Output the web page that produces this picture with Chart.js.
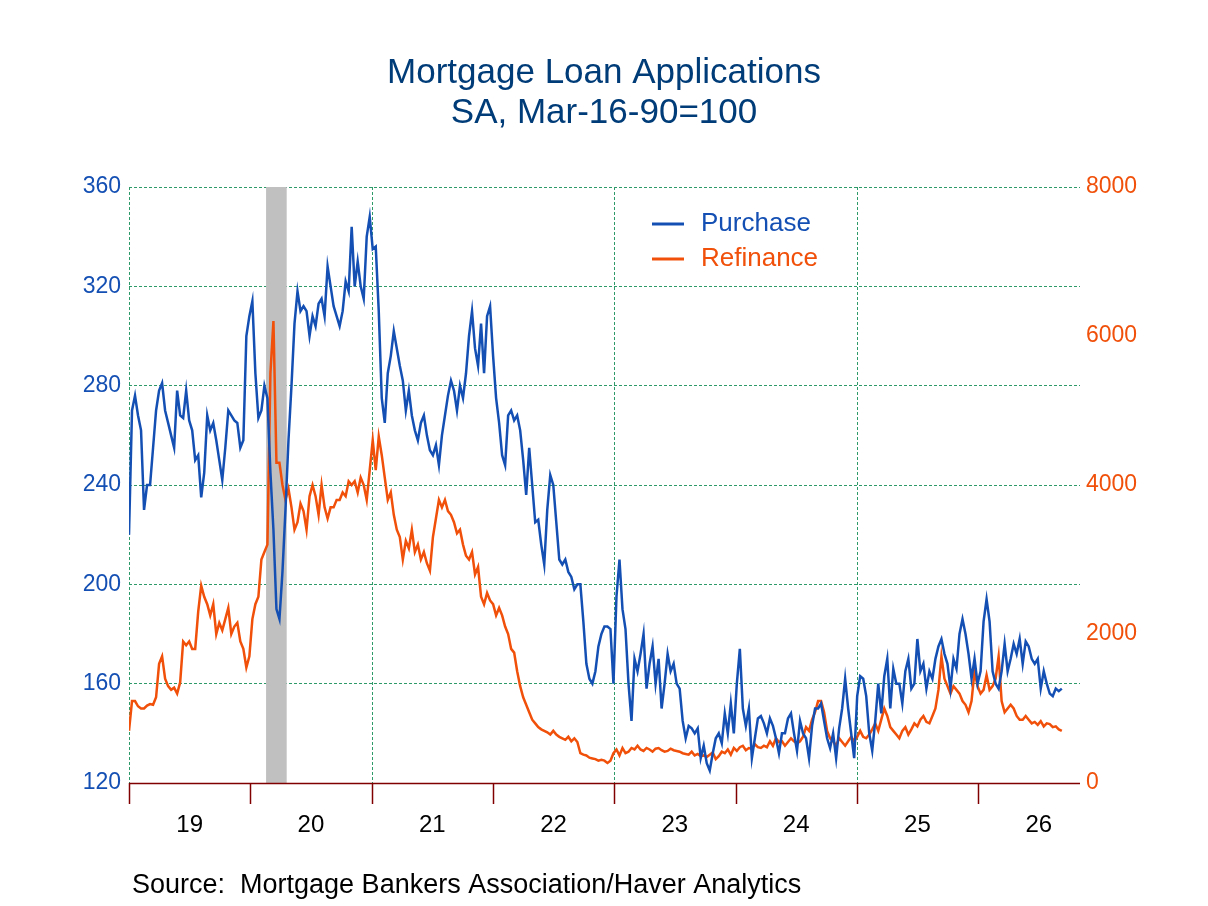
<!DOCTYPE html>
<html><head><meta charset="utf-8">
<script src="https://cdn.jsdelivr.net/npm/chart.js@4"></script>
<style>html,body{margin:0;padding:0;background:#fff}#w{width:1208px;height:906px}</style>
</head><body><div id="w"><canvas id="c" width="1208" height="906"></canvas></div>
<script>
const startYear = 2019.0, endYear = 2026.69;
const yearLabels = ["19","20","21","22","23","24","25","26"];
const leftTicks = [120,160,200,240,280,320,360];
const rightTicks = [0,2000,4000,6000,8000];
const recession = [2020.13, 2020.30];
const purchase = [220,270,276,268,262,230,240,240,255,270,278,281,270,265,260,255,
278,268,267,278,266,262,250,252,235,245,268,262,265,258,250,242,255,270,268,266,265,255,
258,300,308,314,285,267,270,280,275,245,222,190,186,205,230,258,280,305,318,310,312,310,
300,308,304,313,315,308,328,320,312,308,304,310,322,318,344,320,330,320,315,340,348,335,336,310,275,265,285,292,302,295,288,282,270,278,268,262,258,265,268,260,254,252,256,248,260,268,276,282,278,270,280,275,285,300,310,295,288,305,285,308,312,292,275,265,252,248,268,270,266,268,262,250,236,255,240,225,226,216,208,230,244,240,225,210,208,210,205,203,198,200,200,185,168,162,160,165,175,180,183,183,182,160,
195,210,190,182,160,145,170,165,172,180,158,168,175,160,170,150,160,172,165,168,160,158,145,138,143,142,140,142,130,135,128,125,132,138,140,136,148,140,152,140,160,174,150,143,150,130,138,146,147,144,140,146,143,138,132,140,140,146,148,140,133,145,140,138,130,143,150,150,152,145,138,134,140,130,142,150,162,150,140,130,155,163,162,155,140,133,145,160,148,163,170,150,166,160,160,152,165,170,158,160,178,165,168,158,165,162,170,175,178,172,168,158,170,166,180,186,180,172,162,170,160,165,185,194,185,165,160,158,165,176,165,170,176,172,178,168,177,175,170,168,170,158,165,160,156,155,158,157,158];
const refinance = [700,1100,1100,1030,1000,1000,1040,1060,1050,1150,1600,1700,1400,1300,1250,1280,
1200,1350,1900,1850,1900,1800,1800,2300,2650,2500,2400,2250,2400,2000,2150,2050,2200,2350,2000,2100,2150,1900,1800,1550,1700,2200,2400,2500,
3000,3100,3200,5500,6200,4300,4300,4000,3800,3950,
3700,3400,3500,3750,3650,3400,3850,4000,3850,3600,4000,3700,3550,3700,3700,3800,3800,3900,3850,4050,4000,4050,3900,4100,4000,3800,4200,4600,4200,4650,4400,4100,3800,3900,3600,3400,3300,3000,3250,3150,3400,3100,3200,3000,3100,2950,2850,3300,3550,3800,3700,3800,3650,3600,3500,3350,3400,3200,3050,3000,3100,2800,2900,2500,2400,2550,2450,2400,2250,2350,2250,2100,2000,1800,1750,1500,1300,1150,1050,950,850,800,750,720,700,680,650,700,650,620,600,580,620,560,600,550,400,380,370,340,330,320,300,310,300,270,300,400,450,370,470,400,420,470,450,500,450,430,470,450,420,460,470,440,420,430,460,440,430,420,400,390,380,420,370,390,360,370,350,380,410,320,360,420,400,450,380,470,430,480,500,440,470,460,520,480,470,500,480,560,500,600,550,560,500,550,600,560,530,560,620,750,700,850,950,1100,1100,950,700,600,560,500,600,550,500,560,620,560,620,700,620,600,650,720,800,700,850,1000,900,750,700,650,600,700,750,650,720,800,760,850,900,820,800,900,1000,1250,1700,1400,1300,1200,1300,1250,1200,1100,1050,950,1100,1500,1300,1200,1250,1450,1250,1300,1400,1700,1100,950,1000,1050,1000,900,850,850,900,850,800,820,780,830,760,800,790,750,760,720,700];

function toPts(arr){const n=arr.length;return arr.map((v,i)=>({x:startYear+(endYear-startYear)*i/(n-1),y:v}));}
const FONT = "'Liberation Sans', Arial, sans-serif";
const BLUE = "#1450b4", ORANGE = "#f0500a", GRID = "#2e9a6a";

const deco = {
  id:'deco',
  beforeDatasetsDraw(ch){
    const c=ch.ctx, x=ch.scales.x, a=ch.chartArea;
    c.save();
    c.fillStyle="#c0c0c0";
    const x1=x.getPixelForValue(recession[0]), x2=x.getPixelForValue(recession[1]);
    c.fillRect(x1,a.top,x2-x1,a.bottom-a.top);
    c.strokeStyle=GRID; c.lineWidth=1; c.setLineDash([3,2]);
    [2019,2021,2023,2025].forEach(yv=>{const px=Math.round(x.getPixelForValue(yv))+0.5;c.beginPath();c.moveTo(px,a.top);c.lineTo(px,a.bottom);c.stroke();});
    c.restore();
  },
  afterDraw(ch){
    const c=ch.ctx, x=ch.scales.x, a=ch.chartArea;
    c.save();
    c.strokeStyle="#800000"; c.lineWidth=1.5;
    c.beginPath(); c.moveTo(a.left,a.bottom+0.5); c.lineTo(a.right,a.bottom+0.5); c.stroke();
    c.fillStyle="#000"; c.font="24px "+FONT; c.textAlign="center"; c.textBaseline="middle";
    yearLabels.forEach((l,i)=>{
      const y0=2019+i, px=Math.round(x.getPixelForValue(y0))+0.5;
      c.beginPath(); c.moveTo(px,a.bottom); c.lineTo(px,a.bottom+21); c.stroke();
      c.fillText(l, x.getPixelForValue(y0+0.5), a.bottom+42);
    });
    c.fillStyle="#003c78"; c.font="35px "+FONT;
    c.fillText("Mortgage Loan Applications",604,73);
    c.fillText("SA, Mar-16-90=100",604,113);
    c.fillStyle="#000"; c.font="27px "+FONT; c.textAlign="left";
    c.fillText("Source:  Mortgage Bankers Association/Haver Analytics",132,886);
    c.lineWidth=3;
    c.strokeStyle=BLUE; c.beginPath(); c.moveTo(652,224); c.lineTo(684,224); c.stroke();
    c.strokeStyle=ORANGE; c.beginPath(); c.moveTo(652,259); c.lineTo(684,259); c.stroke();
    c.font="26px "+FONT;
    c.fillStyle=BLUE; c.fillText("Purchase",701,224);
    c.fillStyle=ORANGE; c.fillText("Refinance",701,259);
    c.restore();
  }
};

new Chart(document.getElementById('c'),{
  type:'line',
  data:{datasets:[
    {label:'Purchase',data:toPts(purchase),yAxisID:'y',borderColor:BLUE,borderWidth:2.5,pointRadius:0,tension:0},
    {label:'Refinance',data:toPts(refinance),yAxisID:'y2',borderColor:ORANGE,borderWidth:2.5,pointRadius:0,tension:0}
  ]},
  options:{
    responsive:false,animation:false,devicePixelRatio:1,
    layout:{padding:{top:187,bottom:123,left:0,right:0}},
    plugins:{legend:{display:false},tooltip:{enabled:false}},
    scales:{
      x:{type:'linear',min:2019,max:2026.84,display:false},
      y:{position:'left',min:120,max:360,
        afterFit(s){s.width=129;},
        afterBuildTicks(s){s.ticks=leftTicks.map(v=>({value:v}));},
        grid:{color:GRID,lineWidth:1,drawTicks:false,tickLength:0},
        border:{display:false,dash:[3,2]},
        ticks:{color:BLUE,font:{size:23,family:FONT},padding:8}},
      y2:{position:'right',min:0,max:8000,
        afterFit(s){s.width=128;},
        afterBuildTicks(s){s.ticks=rightTicks.map(v=>({value:v}));},
        grid:{display:false,drawTicks:false},
        border:{display:false},
        ticks:{color:ORANGE,font:{size:23,family:FONT},padding:6,callback:v=>String(v)}}
    }
  },
  plugins:[deco]
});
</script></body></html>
